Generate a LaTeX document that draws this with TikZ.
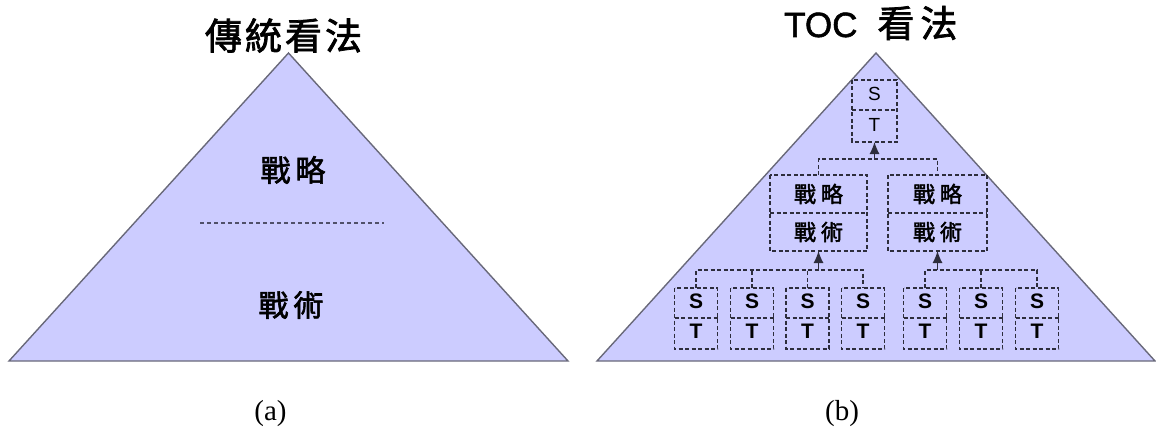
\documentclass[tikz,border=0pt]{standalone}
\usepackage{fontspec}
\setmainfont{Liberation Serif}
\setsansfont{Liberation Sans}
\newfontfamily\cjk[FakeBold=2]{Noto Sans CJK TC}
\newfontfamily\headsans[FakeBold=1.5]{Liberation Sans}
\usetikzlibrary{arrows.meta}
\definecolor{pyrfill}{RGB}{204,204,255}
\definecolor{pyredge}{RGB}{105,105,122}
\definecolor{dashink}{RGB}{45,45,60}
\definecolor{splitink}{RGB}{80,80,105}

\begin{document}
\begin{tikzpicture}[x=1pt,y=-1pt,
  pyramid/.style={fill=pyrfill, draw=pyredge, line width=1.4pt, line join=miter},
  dashline/.style={draw=dashink, line width=1.1pt, dash pattern=on 4pt off 2.5pt},
  uparrow/.style={draw=dashink, line width=1.1pt, -{Latex[length=12pt,width=10pt]}},
  cell/.style={inner sep=0pt, outer sep=0pt},
  stcell/.style={cell, minimum width=43pt, text depth=4pt,
    font=\sffamily\bfseries\fontsize{21}{21}\selectfont},
  topcell/.style={cell, minimum width=45pt, text depth=3pt,
    font=\sffamily\fontsize{19}{19}\selectfont},
  midcell/.style={cell, minimum height=38pt, font=\cjk\fontsize{22}{24}\selectfont},
  bigcjk/.style={font=\cjk\fontsize{30}{32}\selectfont, inner sep=0pt},
  caption/.style={font=\fontsize{29}{31}\selectfont, inner sep=0pt}]

\useasboundingbox (0,0) rectangle (1156,441);

% ---- (a) traditional view ----
\draw[pyramid] (9,361) -- (288.5,53) -- (568,361) -- cycle;
\node[font=\cjk\fontsize{37}{40}\selectfont, inner sep=0pt] (titleA) at (283.5,35.5)
  {傳\kern3pt 統\kern3pt 看\kern3pt 法};
\node[bigcjk] (stratA) at (293,170) {戰\kern5pt 略};
\coordinate (splitL) at (200,223);
\coordinate (splitR) at (384,223);
\draw[draw=splitink, line width=1.2pt, dash pattern=on 4pt off 3pt] (splitL) -- (splitR);
\node[bigcjk] (tactA) at (291,305) {戰\kern5pt 術};
\node[caption] (capA) at (270.5,414) {(a)};

% ---- (b) TOC view ----
\draw[pyramid] (597,361) -- (876,53) -- (1155,361) -- cycle;
\node[anchor=base west, inner sep=0pt] (titleB) at (784,37)
  {\headsans\fontsize{35}{35}\selectfont TOC\kern20pt\cjk\fontsize{37}{40}\selectfont 看\kern6pt 法};

% top S/T box
\node[topcell, minimum height=30pt] (topS) at (874.5,95) {S};
\node[topcell, minimum height=32pt] (topT) at (874.5,126) {T};
\draw[dashline] (topS.north west) rectangle (topT.south east);
\draw[dashline] (topS.south west) -- (topS.south east);

% middle strategy/tactics boxes
\node[midcell, minimum width=97pt] (m1a) at (818.5,194) {戰\kern5pt 略};
\node[midcell, minimum width=97pt] (m1b) at (818.5,232) {戰\kern5pt 術};
\node[midcell, minimum width=99pt] (m2a) at (937.5,194) {戰\kern5pt 略};
\node[midcell, minimum width=99pt] (m2b) at (937.5,232) {戰\kern5pt 術};
\foreach \n in {m1,m2} {
  \draw[dashline] (\n a.north west) rectangle (\n b.south east);
  \draw[dashline] (\n a.south west) -- (\n a.south east);
}

% bottom S/T boxes
\foreach \i/\x in {1/696,2/752,3/807.5,4/863,5/925,6/981,7/1037} {
  \node[stcell, minimum height=30pt] (s\i) at (\x,303) {S};
  \node[stcell, minimum height=31pt] (t\i) at (\x,333.5) {T};
  \draw[dashline] (s\i.north west) rectangle (t\i.south east);
  \draw[dashline] (s\i.south west) -- (s\i.south east);
}

% connectors
\coordinate (j0) at (874.5,159);
\coordinate (j1) at (818.5,270);
\coordinate (j2) at (937.5,270);

\draw[dashline] (m1a.north) |- (j0) -| (m2a.north);
\draw[uparrow] (j0) -- (topT.south);

\draw[dashline] (s1.north) |- (j1) -| (s4.north);
\draw[dashline] (s2.north) -- (s2.north |- j1);
\draw[dashline] (s3.north) -- (s3.north |- j1);
\draw[uparrow] (j1) -- (m1b.south);

\draw[dashline] (s5.north) |- (j2) -| (s7.north);
\draw[dashline] (s6.north) -- (s6.north |- j2);
\draw[uparrow] (j2) -- (m2b.south);

\node[caption] (capB) at (842,414) {(b)};
\end{tikzpicture}
\end{document}
